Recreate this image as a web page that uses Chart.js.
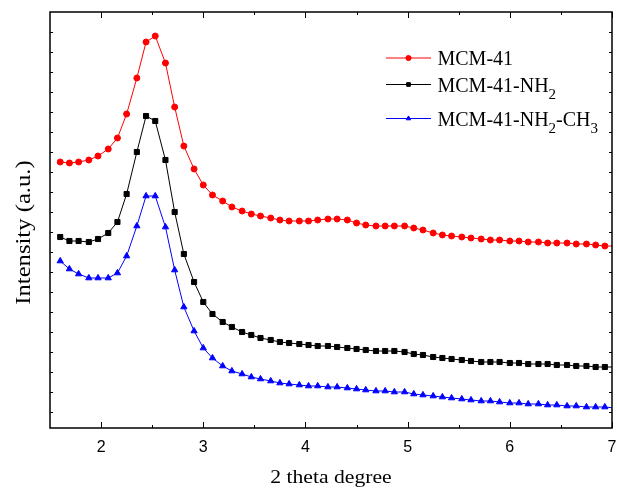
<!DOCTYPE html>
<html>
<head>
<meta charset="utf-8">
<script src="https://cdn.jsdelivr.net/npm/chart.js@4.4.1/dist/chart.umd.min.js"></script>
<style>
  html, body { margin: 0; padding: 0; background: #fff; }
</style>
</head>
<body>
<canvas id="xrd" width="617" height="488"></canvas>
<script>
// 2-theta positions of the measured points
const twoTheta = [1.60, 1.69, 1.78, 1.88, 1.97, 2.07, 2.16, 2.25, 2.35, 2.44,
  2.53, 2.63, 2.72, 2.81, 2.91, 3.00, 3.09, 3.19, 3.28, 3.38,
  3.47, 3.56, 3.66, 3.75, 3.84, 3.94, 4.03, 4.12, 4.22, 4.31,
  4.41, 4.50, 4.59, 4.69, 4.78, 4.87, 4.97, 5.06, 5.15, 5.25,
  5.34, 5.43, 5.53, 5.62, 5.72, 5.81, 5.90, 6.00, 6.09, 6.18,
  6.28, 6.37, 6.46, 6.56, 6.65, 6.75, 6.84, 6.93, 7.03];

// intensities (a.u., curves offset as in the figure)
const mcm41 = [266, 265, 266, 268, 272, 279, 290, 314, 350, 386,
  392, 365, 321, 282, 259, 243, 233, 227, 221, 217,
  214, 212, 210, 208, 207, 207, 207, 208, 209, 209,
  208, 205, 203, 202, 202, 202, 202, 200, 198, 195,
  193, 192, 191, 190, 189, 188, 188, 187, 187, 186,
  186, 185, 185, 185, 184, 184, 183, 182, 182];
const mcm41NH2 = [191, 187, 187, 186, 189, 195, 206, 234, 276, 312,
  307, 268, 216, 174, 146, 126, 114, 106, 101, 96,
  93, 90, 88, 86, 85, 84, 83, 82, 82, 81,
  80, 79, 78, 77, 77, 77, 76, 74, 73, 71,
  70, 69, 68, 67, 66, 66, 66, 65, 65, 64,
  64, 64, 63, 63, 62, 62, 61, 61, 61];
const mcm41NH2CH3 = [167, 159, 154, 150, 150, 150, 155, 172, 202, 232,
  232, 201, 158, 121, 97, 80, 70, 62, 57, 54,
  51, 49, 47, 45, 44, 43, 42, 42, 41, 41,
  40, 39, 38, 37, 37, 36, 36, 34, 33, 32,
  31, 30, 29, 28, 27, 27, 26, 25, 25, 24,
  24, 23, 23, 22, 22, 21, 21, 21, 20];

const xTickValues = [2, 3, 4, 5, 6, 7];
const xTickLabels = ['2', '3', '4', '5', '6', '7'];
const xMinorValues = [2.5, 3.5, 4.5, 5.5, 6.5];

const xTitle = '2 theta degree';
const yTitle = 'Intensity (a.u.)';

// legend text split into normal / subscript pieces
const legendParts = [
  [['MCM-41', false]],
  [['MCM-41-NH', false], ['2', true]],
  [['MCM-41-NH', false], ['2', true], ['-CH', false], ['3', true]]
];

const SERIF = '"Liberation Serif", "Times New Roman", serif';
const SANS = '"Liberation Sans", Arial, sans-serif';

const toPoints = ys => twoTheta.map((t, i) => ({ x: t, y: ys[i] }));

// closed frame with inward ticks on all four sides
const framePlugin = {
  id: 'frame',
  afterDatasetsDraw(chart) {
    const { ctx, chartArea: a, scales: { x, y } } = chart;
    ctx.save();
    ctx.strokeStyle = '#000';
    ctx.lineWidth = 1;
    ctx.beginPath();
    xTickValues.forEach(v => {
      const px = Math.round(x.getPixelForValue(v)) + 0.5;
      ctx.moveTo(px, a.bottom); ctx.lineTo(px, a.bottom - 6);
      ctx.moveTo(px, a.top); ctx.lineTo(px, a.top + 6);
    });
    xMinorValues.forEach(v => {
      const px = Math.round(x.getPixelForValue(v)) + 0.5;
      ctx.moveTo(px, a.bottom); ctx.lineTo(px, a.bottom - 3);
      ctx.moveTo(px, a.top); ctx.lineTo(px, a.top + 3);
    });
    for (let v = y.max - 20; v > y.min; v -= 20) {
      const py = Math.round(y.getPixelForValue(v)) + 0.5;
      ctx.moveTo(a.left, py); ctx.lineTo(a.left + 3, py);
      ctx.moveTo(a.right, py); ctx.lineTo(a.right - 3, py);
    }
    ctx.stroke();
    ctx.lineWidth = 1.5;
    ctx.strokeRect(a.left, a.top, a.right - a.left, a.bottom - a.top);
    ctx.restore();
  }
};

// axis titles: the original export stretches them a little horizontally
const titlePlugin = {
  id: 'axisTitles',
  afterDraw(chart) {
    const { ctx, chartArea: a } = chart;
    ctx.save();
    ctx.fillStyle = '#000';
    ctx.textAlign = 'center';
    ctx.textBaseline = 'alphabetic';
    ctx.font = '19px ' + SERIF;
    ctx.translate((a.left + a.right) / 2, a.bottom + 54.5);
    ctx.scale(1.14, 1);
    ctx.fillText(xTitle, 0, 0);
    ctx.restore();

    ctx.save();
    ctx.fillStyle = '#000';
    ctx.textAlign = 'center';
    ctx.textBaseline = 'alphabetic';
    ctx.font = '22px ' + SERIF;
    ctx.translate(a.left - 20.5, (a.top + a.bottom) / 2 + 12.5);
    ctx.rotate(-Math.PI / 2);
    ctx.scale(1.12, 1);
    ctx.fillText(yTitle, 0, 0);
    ctx.restore();
  }
};

// legend with real subscripts
const legendPlugin = {
  id: 'subLegend',
  afterDraw(chart) {
    const { ctx } = chart;
    const rowsY = [58, 84.5, 118.5];
    ctx.save();
    chart.data.datasets.forEach((ds, i) => {
      const yy = rowsY[i];
      ctx.strokeStyle = ds.borderColor;
      ctx.fillStyle = ds.borderColor;
      ctx.lineWidth = 1;
      ctx.beginPath();
      ctx.moveTo(386, yy); ctx.lineTo(431, yy);
      ctx.stroke();
      Chart.helpers.drawPoint(ctx, { pointStyle: ds.pointStyle, radius: 2.6, borderWidth: 1, rotation: 0 }, 408.5, yy);
      ctx.fillStyle = '#000';
      ctx.textBaseline = 'alphabetic';
      let tx = 437.5;
      legendParts[i].forEach(([txt, sub]) => {
        ctx.font = sub ? '15px ' + SERIF : '20px ' + SERIF;
        ctx.fillText(txt, tx, sub ? yy + 14 : yy + 7);
        tx += ctx.measureText(txt).width;
      });
    });
    ctx.restore();
  }
};

new Chart(document.getElementById('xrd'), {
  type: 'line',
  data: {
    datasets: [
      { label: 'MCM-41', data: toPoints(mcm41), borderColor: '#ff0000', backgroundColor: '#ff0000',
        pointStyle: 'circle', pointRadius: 3, borderWidth: 1, pointBorderWidth: 1 },
      { label: 'MCM-41-NH₂', data: toPoints(mcm41NH2), borderColor: '#000000', backgroundColor: '#000000',
        pointStyle: 'rect', pointRadius: 3.6, borderWidth: 1, pointBorderWidth: 1 },
      { label: 'MCM-41-NH₂-CH₃', data: toPoints(mcm41NH2CH3), borderColor: '#0000ff', backgroundColor: '#0000ff',
        pointStyle: 'triangle', pointRadius: 3.6, borderWidth: 1, pointBorderWidth: 1 }
    ]
  },
  options: {
    responsive: false,
    animation: false,
    layout: { padding: { top: 12, right: 2.5, left: 0, bottom: 0 } },
    plugins: { legend: { display: false }, tooltip: { enabled: false } },
    scales: {
      x: {
        type: 'linear', min: 1.5, max: 7,
        grid: { display: false, drawTicks: false }, border: { display: false },
        afterBuildTicks: s => { s.ticks = xTickValues.map(v => ({ value: v })); },
        afterFit: s => { s.height = 60; s.paddingLeft = 0; s.paddingRight = 0; },
        ticks: {
          padding: 10, color: '#000', autoSkip: false, maxRotation: 0,
          font: { family: SANS, size: 16 },
          callback: v => xTickLabels[xTickValues.indexOf(v)] ?? ''
        },
        title: { display: false }
      },
      y: {
        min: 0, max: 416,
        grid: { display: false, drawTicks: false }, border: { display: false },
        ticks: { display: false },
        afterFit: s => { s.width = 50; s.paddingTop = 0; s.paddingBottom = 0; },
        title: { display: false }
      }
    }
  },
  plugins: [framePlugin, titlePlugin, legendPlugin]
});
</script>
</body>
</html>
